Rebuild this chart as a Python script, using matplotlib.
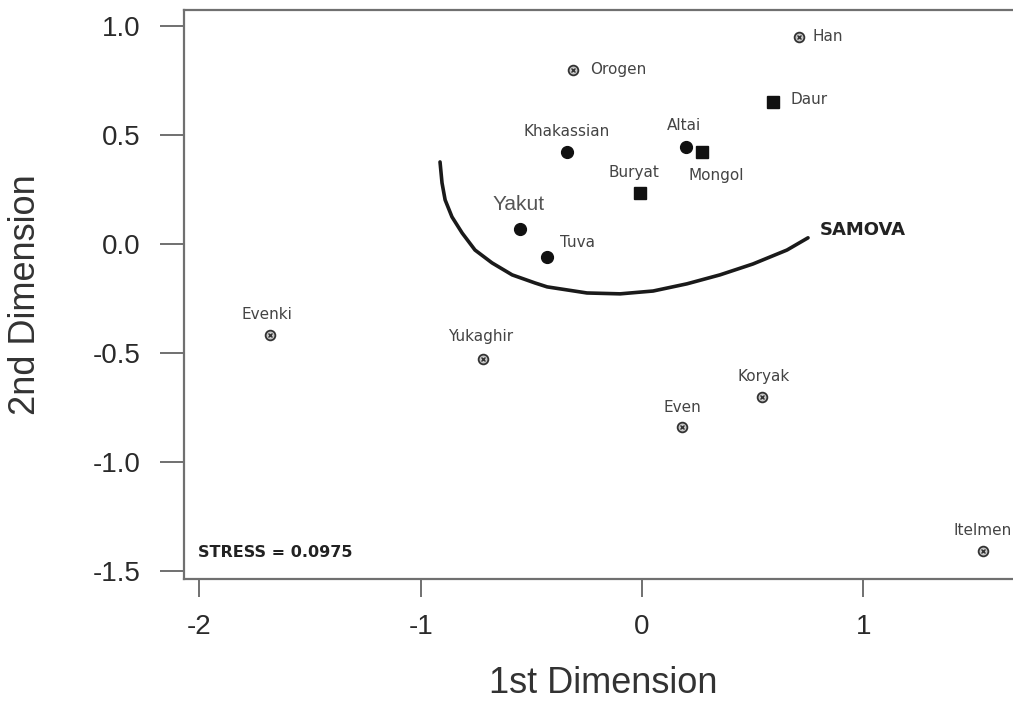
import matplotlib
matplotlib.use("Agg")
import matplotlib.pyplot as plt

# ---- data ----
circle_names = ["Khakassian", "Altai", "Yakut", "Tuva"]
circle_x = [-0.34, 0.20, -0.55, -0.43]
circle_y = [0.42, 0.445, 0.07, -0.06]

square_names = ["Daur", "Mongol", "Buryat"]
square_x = [0.59, 0.27, -0.01]
square_y = [0.65, 0.42, 0.235]

open_names = ["Han", "Orogen", "Evenki", "Yukaghir", "Even", "Koryak", "Itelmen"]
open_x = [0.71, -0.31, -1.68, -0.72, 0.18, 0.54, 1.54]
open_y = [0.95, 0.80, -0.42, -0.53, -0.84, -0.70, -1.41]

samova_x = [-0.913, -0.904, -0.890, -0.859, -0.813, -0.755, -0.678, -0.587,
            -0.484, -0.429, -0.339, -0.249, -0.099, 0.050, 0.203, 0.352,
            0.501, 0.655, 0.750]
samova_y = [0.376, 0.280, 0.202, 0.124, 0.050, -0.028, -0.087, -0.142,
            -0.179, -0.197, -0.211, -0.225, -0.229, -0.216, -0.183, -0.142,
            -0.092, -0.028, 0.028]

x_ticks = [-2, -1, 0, 1]
y_ticks = [1.0, 0.5, 0.0, -0.5, -1.0, -1.5]
stress_text = "STRESS = 0.0975"

# label offsets in pixels (ha)
label_offsets = {
    "Han": (13, 0, "left"), "Orogen": (17, 0, "left"), "Daur": (18, 3, "left"),
    "Khakassian": (0, 21, "center"), "Altai": (-2, 21, "center"),
    "Mongol": (14, -23, "center"), "Buryat": (-6, 20, "center"),
    "Yakut": (-2, 24, "center"), "Tuva": (13, 15, "left"),
    "Evenki": (-3, 21, "center"), "Yukaghir": (-2, 23, "center"),
    "Even": (0, 20, "center"), "Koryak": (2, 20, "center"),
    "Itelmen": (0, 21, "center"),
}

W, H = 1013, 704
fig = plt.figure(figsize=(W / 100, H / 100), dpi=100)
ax = fig.add_axes([184 / W, 125 / H, 838 / W, 569 / H])

ax.set_xlim(-2.07, 1.717)
ax.set_ylim(-1.537, 1.073)

spine_col = "#707070"
for s in ["left", "bottom", "top", "right"]:
    ax.spines[s].set_color(spine_col)
    ax.spines[s].set_linewidth(1.6)

ax.set_xticks(x_ticks)
ax.set_xticklabels([str(t) for t in x_ticks])
ax.set_yticks(y_ticks)
ax.set_yticklabels([f"{t:.1f}" for t in y_ticks])
ax.tick_params(axis="x", length=13, width=1.4, color=spine_col, pad=12,
               labelsize=20, labelcolor="#2a2a2a")
ax.tick_params(axis="y", length=17, width=1.4, color=spine_col, pad=14,
               labelsize=20, labelcolor="#2a2a2a")
for lab in ax.get_xticklabels() + ax.get_yticklabels():
    lab.set_family("Liberation Sans")

ax.set_xlabel("1st Dimension", fontsize=26, family="Liberation Sans",
              color="#333333", labelpad=19)
ax.set_ylabel("2nd Dimension", fontsize=26, family="Liberation Sans",
              color="#333333", labelpad=36)

# SAMOVA curve
ax.plot(samova_x, samova_y, color="#1a1a1a", lw=2.6, solid_capstyle="round",
        solid_joinstyle="round", zorder=2)

# markers
ax.plot(circle_x, circle_y, "o", ms=8.5, color="#111111", zorder=3)
ax.plot(square_x, square_y, "s", ms=9, color="#111111", zorder=3)
ax.plot(open_x, open_y, "o", ms=7, mfc="#c8c8c8", mec="#333333", mew=1.3, zorder=3)
ax.plot(open_x, open_y, "x", ms=3.5, color="#333333", mew=1.0, zorder=4)

def put_labels(names, xs, ys):
    for n, x, y in zip(names, xs, ys):
        dx, dy, ha = label_offsets[n]
        big = n == "Yakut"
        ax.annotate(n, (x, y), xytext=(dx, dy), textcoords="offset pixels",
                    ha=ha, va="center",
                    fontsize=15 if big else 11,
                    family="Liberation Sans" if big else "DejaVu Sans",
                    color="#555555" if big else "#444444", zorder=5,
                    annotation_clip=False)

put_labels(circle_names, circle_x, circle_y)
put_labels(square_names, square_x, square_y)
put_labels(open_names, open_x, open_y)

ax.text(-2.006, -1.417, stress_text, fontsize=11.5, fontweight="bold",
        family="DejaVu Sans", color="#222222", ha="left", va="center")
ax.text(0.804, 0.064, "SAMOVA", fontsize=13, fontweight="bold",
        family="DejaVu Sans", color="#222222", ha="left", va="center")

fig.savefig("out.png", dpi=100)
